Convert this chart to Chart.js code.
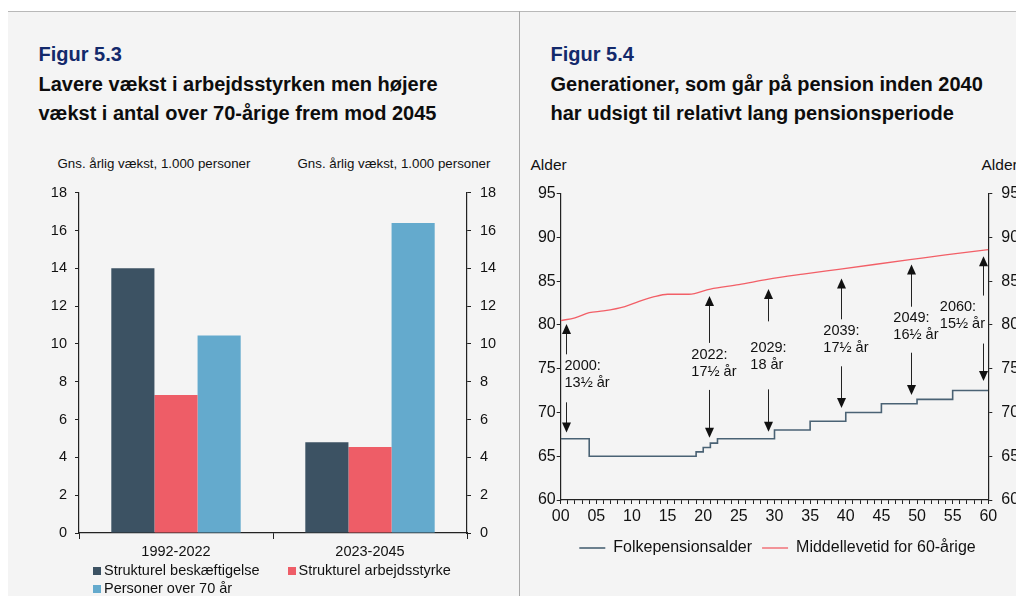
<!DOCTYPE html>
<html lang="da">
<head>
<meta charset="utf-8">
<title>Figur 5.3 og 5.4</title>
<script src="https://cdn.jsdelivr.net/npm/chart.js@4.4.1/dist/chart.umd.min.js"></script>
<style>
  html, body { margin: 0; padding: 0; background: #ffffff; }
  body { width: 1016px; height: 596px; position: relative; overflow: hidden;
         font-family: "Liberation Sans", Arial, sans-serif; color: #111; }
  #panel { position: absolute; left: 8px; top: 11px; width: 1008px; height: 585px;
           background: #f4f4f4; border-top: 1px solid #b8b8b8; }
  #divider { position: absolute; left: 519px; top: 11px; width: 1px; height: 585px; background: #a9a9a9; }
  .fig { position: absolute; font-size: 20px; font-weight: bold; color: #13296b; line-height: 29px; white-space: nowrap; }
  .title { position: absolute; font-size: 20px; font-weight: bold; color: #0d0d0d; line-height: 29.5px; white-space: nowrap; }
  .unit { position: absolute; font-size: 13.3px; line-height: 15px; white-space: nowrap; }
  .alder { position: absolute; font-size: 15.5px; line-height: 18px; white-space: nowrap; }
  canvas { position: absolute; }
  #legend53 { position: absolute; left: 93px; top: 561px; width: 420px; font-size: 14.5px; line-height: 18px; }
  #legend53 .item { position: absolute; white-space: nowrap; }
  #legend53 .box { position: absolute; left: 0; top: 5.5px; width: 8px; height: 8.5px; }
  #legend53 .txt { position: absolute; left: 11px; top: 0; }
</style>
</head>
<body>
<div id="panel"></div>
<div id="divider"></div>

<div class="fig" style="left:38.5px; top:40px;">Figur 5.3</div>
<div class="title" style="left:38.5px; top:69.5px;">Lavere vækst i arbejdsstyrken men højere<br>vækst i antal over 70-årige frem mod 2045</div>
<div class="unit" style="left:57.5px; top:155.5px;">Gns. årlig vækst, 1.000 personer</div>
<div class="unit" style="left:297.5px; top:155.5px;">Gns. årlig vækst, 1.000 personer</div>
<canvas id="chart53" width="511" height="388" style="left:8px; top:175px;"></canvas>
<div id="legend53"></div>

<div class="fig" style="left:550.5px; top:40px;">Figur 5.4</div>
<div class="title" style="left:550.5px; top:69.5px;">Generationer, som går på pension inden 2040<br>har udsigt til relativt lang pensionsperiode</div>
<div class="alder" style="left:530.5px; top:155.5px;">Alder</div>
<div class="alder" style="left:981.5px; top:155.5px;">Alder</div>
<canvas id="chart54" width="515" height="391" style="left:520px; top:175px;"></canvas>

<script>
/* Figur 5.3 - average yearly growth, 1.000 persons */
const periods = ['1992-2022', '2023-2045'];
const seriesNames = ['Strukturel beskæftigelse', 'Strukturel arbejdsstyrke', 'Personer over 70 år'];
const beskaeftigelse = [14.0, 4.8];
const arbejdsstyrke = [7.3, 4.55];
const over70 = [10.45, 16.4];

/* Figur 5.4 - pension age and remaining life expectancy at 60 (x = years after 2000) */
const pensionYears = [0, 4, 19, 20, 21, 22, 30, 35, 40, 45, 50, 55, 60];
const pensionAge = [67, 65, 65.5, 66, 66.5, 67, 68, 69, 70, 71, 71.5, 72.5, 72.5];
const lifeYears = [0, 2, 4, 6, 9, 11, 13, 15, 18, 21, 25, 29, 34, 39, 44, 49, 54, 60];
const lifeExp = [80.5, 80.8, 81.4, 81.6, 82.1, 82.7, 83.2, 83.5, 83.5, 84.1, 84.6, 85.2, 85.8, 86.35, 86.9, 87.45, 88.0, 88.6];
const lineNames = ['Folkepensionsalder', 'Middellevetid for 60-årige'];

/* arrows: expected pension period for selected cohorts */
const noteYears = [0.7, 20.8, 29.1, 39.3, 49.2, 59.2];
const noteTop = [80.1, 83.3, 84.1, 85.3, 86.9, 87.85];
const noteBottom = [67.7, 67.1, 67.8, 70.5, 72.0, 73.6];
const noteText = [
    ['2000:', '13½ år'],
    ['2022:', '17½ år'],
    ['2029:', '18 år'],
    ['2039:', '17½ år'],
    ['2049:', '16½ år'],
    ['2060:', '15½ år']
];

/* styling */
const barColors = ['#3c5263', '#ee5d67', '#64aacd'];
const lineColors = ['#4a6274', '#f25f67'];
const noteAlign = ['left', 'first', 'first', 'first', 'first', 'right'];
const noteGapAbove = [24, 24, 39, 24, 23, 23];
const noteGapBelow = [24, 23, 29, 23, 23, 25];
const axisColor = '#222';

Chart.defaults.font.family = '"Liberation Sans", Arial, sans-serif';
Chart.defaults.color = '#111';
Chart.defaults.animation = false;

function fixWidth(w) {
    return scale => { scale.width = w; };
}
function fixHeight(h) {
    return scale => { scale.height = h; };
}

/* ---------- Figur 5.3 ---------- */
const barSets = [beskaeftigelse, arbejdsstyrke, over70].map((values, i) => ({
    label: seriesNames[i],
    data: values,
    backgroundColor: barColors[i],
    categoryPercentage: 0.667,
    barPercentage: 1.0,
    yAxisID: 'y'
}));

new Chart(document.getElementById('chart53'), {
    type: 'bar',
    data: { labels: periods, datasets: barSets },
    options: {
        responsive: false,
        devicePixelRatio: 1,
        layout: { padding: { top: 14, left: 0, right: 0, bottom: 0 } },
        plugins: { legend: { display: false }, tooltip: { enabled: false } },
        scales: {
            x: {
                grid: { display: true, offset: true, drawOnChartArea: false, drawTicks: true,
                        tickLength: 6, color: axisColor, tickColor: axisColor },
                border: { color: axisColor, width: 1.2 },
                ticks: { font: { size: 14.5 }, padding: 4, color: '#111' },
                afterFit: fixHeight(30)
            },
            y: {
                position: 'left',
                min: 0, max: 18,
                ticks: { stepSize: 2, font: { size: 14.5 }, padding: 8, color: '#111' },
                grid: { drawOnChartArea: false, tickLength: 4, color: axisColor },
                border: { color: axisColor, width: 1.2 },
                afterFit: fixWidth(71)
            },
            y2: {
                position: 'right',
                min: 0, max: 18,
                ticks: { stepSize: 2, font: { size: 14.5 }, padding: 9, color: '#111' },
                grid: { drawOnChartArea: false, tickLength: 4, color: axisColor },
                border: { color: axisColor, width: 1.2 },
                afterFit: fixWidth(52)
            }
        }
    }
});

/* html legend for 5.3, two items in the first row, one in the second */
const legendBox = document.getElementById('legend53');
const legendSpots = [[0, 0], [194.5, 0], [0, 18]];
seriesNames.forEach((name, i) => {
    const item = document.createElement('div');
    item.className = 'item';
    item.style.left = legendSpots[i][0] + 'px';
    item.style.top = legendSpots[i][1] + 'px';
    item.innerHTML = `<span class="box" style="background:${barColors[i]}"></span><span class="txt"></span>`;
    item.querySelector('.txt').textContent = name;
    legendBox.appendChild(item);
});

/* ---------- Figur 5.4 ---------- */
function drawHead(ctx, x, y, dir) {
    // dir -1: pointing up, 1: pointing down
    ctx.beginPath();
    ctx.moveTo(x, y);
    ctx.lineTo(x - 4.5, y - dir * 10);
    ctx.lineTo(x + 4.5, y - dir * 10);
    ctx.closePath();
    ctx.fill();
}

const arrowNotes = {
    id: 'arrowNotes',
    afterDatasetsDraw(chart) {
        const ctx = chart.ctx;
        const xs = chart.scales.x;
        const ys = chart.scales.y;
        ctx.save();
        ctx.font = '14.5px "Liberation Sans", Arial, sans-serif';
        ctx.fillStyle = '#111';
        ctx.strokeStyle = '#222';
        ctx.lineWidth = 1;
        noteYears.forEach((yr, i) => {
            const x = Math.round(xs.getPixelForValue(yr)) + 0.5;
            const top = ys.getPixelForValue(noteTop[i]);
            const bottom = ys.getPixelForValue(noteBottom[i]);
            const mid = (top + bottom) / 2;

            ctx.beginPath();
            ctx.moveTo(x, top + 8);
            ctx.lineTo(x, mid - noteGapAbove[i]);
            ctx.moveTo(x, mid + noteGapBelow[i]);
            ctx.lineTo(x, bottom - 8);
            ctx.stroke();
            drawHead(ctx, x, top, -1);
            drawHead(ctx, x, bottom, 1);

            const lines = noteText[i];
            let left;
            if (noteAlign[i] === 'left') {
                left = x - 2;
            } else if (noteAlign[i] === 'right') {
                left = x + 1.5 - Math.max(...lines.map(t => ctx.measureText(t).width));
            } else {
                left = x - ctx.measureText(lines[0]).width / 2;
            }
            ctx.textAlign = 'left';
            ctx.textBaseline = 'middle';
            ctx.fillText(lines[0], left, mid - 12);
            ctx.fillText(lines[1], left, mid + 5);
        });
        ctx.restore();
    }
};

new Chart(document.getElementById('chart54'), {
    type: 'line',
    data: {
        datasets: [
            {
                label: lineNames[0],
                data: pensionYears.map((x, i) => ({ x: x, y: pensionAge[i] })),
                borderColor: lineColors[0],
                backgroundColor: lineColors[0],
                borderWidth: 1.6,
                stepped: 'before',
                pointRadius: 0,
                fill: false
            },
            {
                label: lineNames[1],
                data: lifeYears.map((x, i) => ({ x: x, y: lifeExp[i] })),
                borderColor: lineColors[1],
                backgroundColor: lineColors[1],
                borderWidth: 1.3,
                cubicInterpolationMode: 'monotone',
                pointRadius: 0,
                fill: false
            }
        ]
    },
    options: {
        responsive: false,
        devicePixelRatio: 1,
        layout: { padding: { top: 15.7, left: 0, right: 0, bottom: 0 } },
        plugins: {
            tooltip: { enabled: false },
            legend: {
                position: 'bottom',
                labels: {
                    usePointStyle: true,
                    pointStyle: 'line',
                    pointStyleWidth: 26,
                    boxHeight: 16,
                    padding: 10,
                    color: '#111',
                    font: { size: 16 }
                }
            }
        },
        scales: {
            x: {
                type: 'linear',
                min: 0, max: 60,
                ticks: {
                    stepSize: 1,
                    autoSkip: false,
                    maxTicksLimit: 100,
                    maxRotation: 0,
                    font: { size: 16 },
                    padding: 3,
                    color: '#111',
                    callback: v => (v % 5 === 0 ? String(v).padStart(2, '0') : '')
                },
                grid: { drawOnChartArea: false, tickLength: 4, color: axisColor },
                border: { color: axisColor, width: 1.2 },
                afterFit: fixHeight(30)
            },
            y: {
                position: 'left',
                min: 60, max: 95,
                ticks: { stepSize: 5, font: { size: 16 }, padding: 1, color: '#111' },
                grid: { drawOnChartArea: false, tickLength: 4, color: axisColor },
                border: { color: axisColor, width: 1.2 },
                afterFit: fixWidth(40.7)
            },
            y2: {
                position: 'right',
                min: 60, max: 95,
                ticks: { stepSize: 5, font: { size: 16 }, padding: 9, color: '#111' },
                grid: { drawOnChartArea: false, tickLength: 4, color: axisColor },
                border: { color: axisColor, width: 1.2 },
                afterFit: fixWidth(46.7)
            }
        }
    },
    plugins: [arrowNotes]
});
</script>
</body>
</html>
